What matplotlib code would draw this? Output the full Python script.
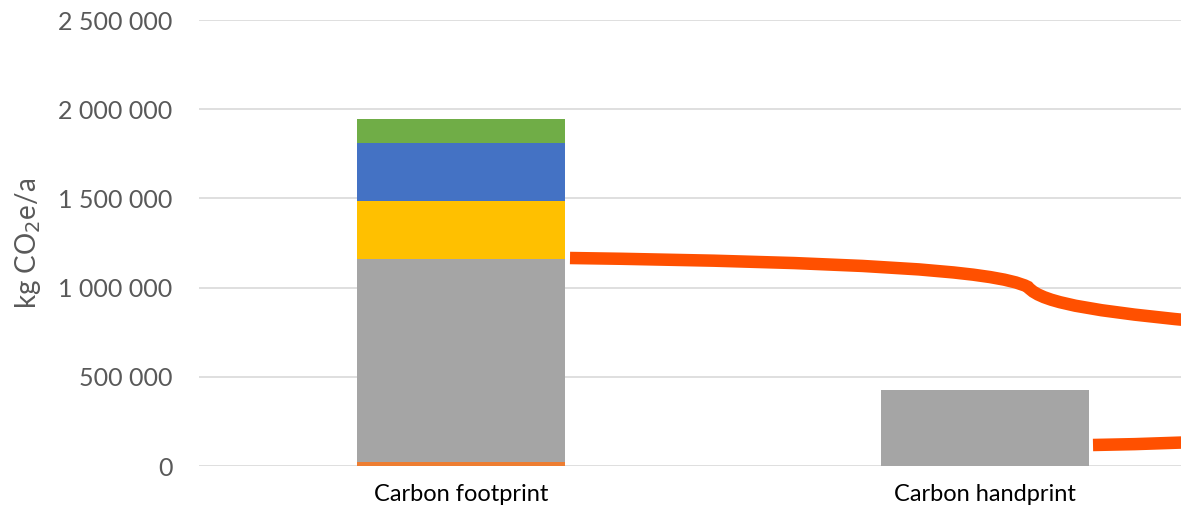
import matplotlib
matplotlib.use("Agg")
import matplotlib.pyplot as plt
import numpy as np
from matplotlib.path import Path
from matplotlib.patches import PathPatch
from matplotlib.ticker import FuncFormatter

categories = ["Carbon footprint", "Carbon handprint"]
# stacked components, bottom to top
series_orange = [25000, 0]
series_gray = [1135000, 426000]
series_yellow = [325000, 0]
series_blue = [325000, 0]
series_green = [135000, 0]

series = [series_orange, series_gray, series_yellow, series_blue, series_green]
colors = ["#ED7D31", "#A5A5A5", "#FFC000", "#4472C4", "#70AD47"]

y_ticks = [0, 500000, 1000000, 1500000, 2000000, 2500000]

plt.rcParams["font.family"] = ["Lato", "DejaVu Sans"]

fig = plt.figure(figsize=(11.81, 5.12), dpi=100)
# axis continues past the right edge of the picture (cropped screenshot)
ax = fig.add_axes([199 / 1181, 46 / 512, 1048 / 1181, 446 / 512])

x = np.arange(len(categories))
bottom = np.zeros(len(categories))
for vals, col in zip(series, colors):
    ax.bar(x, vals, bottom=bottom, width=0.397, color=col, zorder=3)
    bottom += np.array(vals)

ax.set_xlim(-0.5, 1.5)
ax.set_ylim(0, 2500000)
ax.set_yticks(y_ticks)
ax.yaxis.set_major_formatter(FuncFormatter(lambda v, p: f"{int(v):,}".replace(",", " ")))
ax.set_xticks(x)
ax.set_xticklabels(categories, fontsize=17, color="black")
ax.tick_params(axis="y", length=0, pad=19, labelsize=18, labelcolor="#595959")
ax.tick_params(axis="x", length=0, pad=13)
ax.grid(axis="y", color="#D9D9D9", linewidth=1.2, zorder=0)
for s in ax.spines.values():
    s.set_visible(False)
fig.text(28 / 1181, 1 - 243 / 512, "kg CO$_2$e/a", rotation=90, fontsize=20,
         color="#595959", ha="center", va="center")

# orange bracket annotation (partly outside the visible picture)
def px(xp, yp):
    return ((xp - 199) / 524 - 0.5, (466 - yp) / 446 * 2500000)

upper = [px(570, 258), px(850, 262), px(995, 270), px(1028, 287),
         px(1042, 304), px(1100, 313), px(1250, 326)]
upper_codes = [Path.MOVETO, Path.CURVE4, Path.CURVE4, Path.CURVE4,
               Path.CURVE4, Path.CURVE4, Path.CURVE4]
lower = [px(1093, 445), px(1150, 444), px(1200, 442), px(1250, 440)]
lower_codes = [Path.MOVETO, Path.CURVE4, Path.CURVE4, Path.CURVE4]
for verts, codes in [(upper, upper_codes), (lower, lower_codes)]:
    ax.add_patch(PathPatch(Path(verts, codes), facecolor="none",
                           edgecolor="#FF5000", linewidth=9,
                           capstyle="butt", zorder=4, clip_on=False))

fig.savefig("out.png", dpi=100)
